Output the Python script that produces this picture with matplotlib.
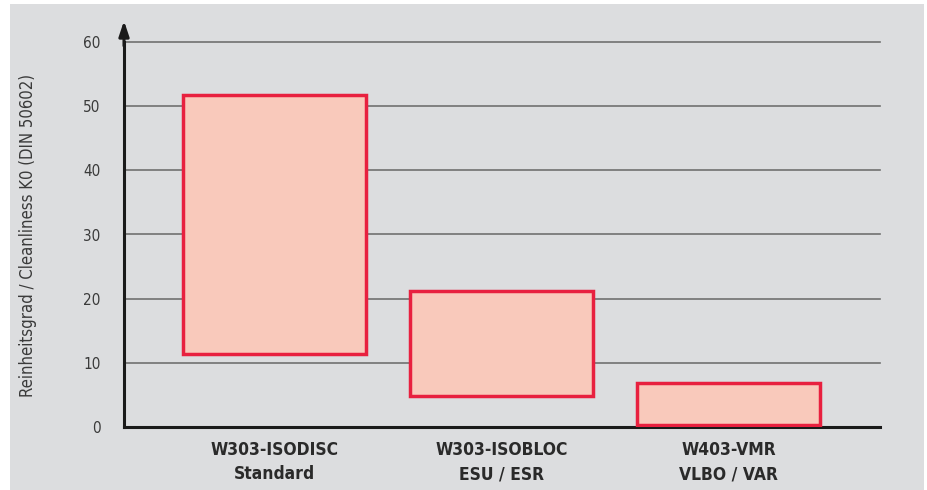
import matplotlib
matplotlib.use('Agg')
import matplotlib.pyplot as plt
from matplotlib.patches import Rectangle

# data
categories = ['W303-ISODISC\nStandard', 'W303-ISOBLOC\nESU / ESR', 'W403-VMR\nVLBO / VAR']
range_low = [11.3, 4.8, 0.3]
range_high = [51.7, 21.2, 6.8]
y_ticks = [0, 10, 20, 30, 40, 50, 60]
y_label = 'Reinheitsgrad / Cleanliness K0 (DIN 50602)'

plt.rcParams['font.family'] = ['DejaVu Sans']
plt.rcParams['font.stretch'] = 'condensed'

W, H = 927, 490
fig = plt.figure(figsize=(W / 100, H / 100), dpi=100)
fig.patch.set_facecolor('white')
fig.patches.append(Rectangle((10 / W, 0), (924 - 10) / W, (486) / H,
                             transform=fig.transFigure, facecolor='#dcdddf',
                             edgecolor='none', zorder=-10))

ax = fig.add_axes([124 / W, (H - 427) / H, (880 - 124) / W, (427 - 42) / H])
ax.set_facecolor('none')

x = range(len(categories))
heights = [h - l for l, h in zip(range_low, range_high)]
ax.bar(x, heights, bottom=range_low, width=0.806, color='#f9c9bb',
       edgecolor='#e8203f', linewidth=2.5, zorder=3)

ax.set_xlim(-0.663, 2.667)
ax.set_ylim(0, 60)
ax.set_yticks(y_ticks)
ax.set_yticklabels([str(t) for t in y_ticks], fontsize=11, color='#3a3a3a')
ax.set_xticks(list(x))
ax.set_xticklabels(categories, fontsize=12.5, fontweight='bold', color='#2a2a2a',
                   linespacing=1.45)
ax.tick_params(axis='y', length=0, pad=17)
ax.tick_params(axis='x', length=0, pad=10)

for t in y_ticks[1:]:
    ax.axhline(t, color='#707070', linewidth=1.2, zorder=1, clip_on=False)

for side in ['top', 'right']:
    ax.spines[side].set_visible(False)
ax.spines['left'].set_linewidth(2.2)
ax.spines['bottom'].set_linewidth(2.2)
ax.spines['left'].set_color('#1a1a1a')
ax.spines['bottom'].set_color('#1a1a1a')

# arrow on top of y axis
ax.annotate('', xy=(0, 1.055), xytext=(0, 0.99), xycoords='axes fraction',
            arrowprops=dict(arrowstyle='-|>,head_width=0.3,head_length=0.9',
                            color='#1a1a1a', lw=2.2, shrinkA=0, shrinkB=0),
            annotation_clip=False)

fig.text(28 / W, 1 - 235 / H, y_label, rotation=90, ha='center', va='center',
         fontsize=12, color='#3a3a3a')

fig.savefig('out.png', dpi=100)
